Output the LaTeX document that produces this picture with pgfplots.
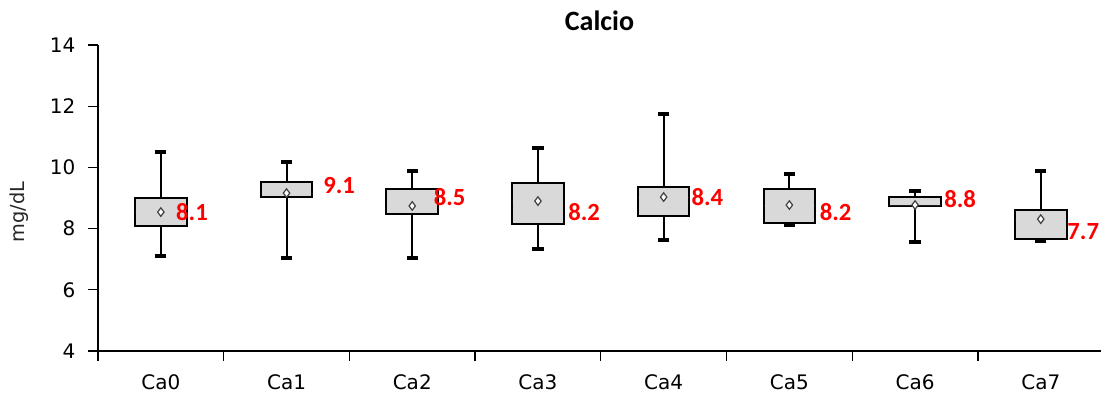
\documentclass[border=0pt]{standalone}
\usepackage{fontspec}
\setmainfont{DejaVu Sans}
\newfontfamily\calib{Carlito}
\usepackage{pgfplots}
\usepgfplotslibrary{statistics}
\usepackage{pgfplotstable}
\pgfplotsset{compat=1.18}

\definecolor{boxgray}{HTML}{D9D9D9}
\definecolor{meanedge}{HTML}{404040}

% boxes
\pgfplotstableread{
pos lw   lq   uq   uw    mean
0   7.10 8.08 9.00 10.50 8.54
1   7.04 9.03 9.52 10.18 9.16
2   7.04 8.48 9.29 9.88  8.74
3   7.33 8.15 9.49 10.63 8.90
4   7.63 8.41 9.36 11.75 9.03
5   8.12 8.18 9.29 9.78  8.77
6   7.56 8.74 9.03 9.23  8.77
7   7.60 7.66 8.60 9.88  8.31
}\data

% red value labels: text, left edge x, centre y
\pgfplotstableread{
lab lx   ly
8.1 0.12 8.54
9.1 1.29 9.42
8.5 2.17 9.03
8.2 3.24 8.54
8.4 4.22 9.03
8.2 5.24 8.54
8.8 6.23 8.97
7.7 7.21 7.89
}\labels

\pgfplotsset{
  boxplot/every whisker/.style={black, line width=1.5pt},
  boxplot/every median/.style={draw=none},
  cabox/.style={black, line width=1.5pt, fill=boxgray, boxplot prepared={#1}},
}

\begin{document}
\begin{tikzpicture}
\begin{axis}[
    scale only axis,
    width=752.25pt, height=229.5pt,
    xmin=-0.5, xmax=7.479,
    ymin=4, ymax=14,
    ytick={4,6,...,14},
    xtick={0,...,7},
    xticklabels={Ca0,Ca1,Ca2,Ca3,Ca4,Ca5,Ca6,Ca7},
    minor xtick={-0.5,0.5,...,6.5},
    axis x line=bottom, axis y line=left,
    axis line style={-, line width=1.1pt},
    tick align=outside,
    major tick length=7.5pt, minor tick length=7.5pt,
    major x tick style={draw=none},
    every tick/.style={black, line width=1pt},
    ticklabel style={font=\fontsize{15}{15}\selectfont},
    yticklabel style={xshift=-6pt},
    xticklabel style={yshift=-7pt},
    /pgf/number format/assume math mode=true,
    title={\calib\bfseries\fontsize{21}{21}\selectfont Calcio},
    title style={at={(rel axis cs:0.5,1)}, anchor=base, yshift=5pt, inner sep=0pt},
    ylabel={mg/dL},
    ylabel style={at={(rel axis cs:0,0.454)}, yshift=59pt, anchor=center,
                  font=\fontsize{14.5}{14.5}\selectfont, text=black!85},
    clip=false,
    boxplot/draw direction=y,
    boxplot/box extend=0.41,
    boxplot/whisker extend=0,
]
\coordinate (bb) at (rel axis cs:0,0);

\addplot[cabox={draw position=0, lower whisker=7.10, lower quartile=8.08, median=8.54, upper quartile=9.00, upper whisker=10.50}] coordinates {};
\addplot[cabox={draw position=1, lower whisker=7.04, lower quartile=9.03, median=9.16, upper quartile=9.52, upper whisker=10.18}] coordinates {};
\addplot[cabox={draw position=2, lower whisker=7.04, lower quartile=8.48, median=8.74, upper quartile=9.29, upper whisker=9.88}] coordinates {};
\addplot[cabox={draw position=3, lower whisker=7.33, lower quartile=8.15, median=8.90, upper quartile=9.49, upper whisker=10.63}] coordinates {};
\addplot[cabox={draw position=4, lower whisker=7.63, lower quartile=8.41, median=9.03, upper quartile=9.36, upper whisker=11.75}] coordinates {};
\addplot[cabox={draw position=5, lower whisker=8.12, lower quartile=8.18, median=8.77, upper quartile=9.29, upper whisker=9.78}] coordinates {};
\addplot[cabox={draw position=6, lower whisker=7.56, lower quartile=8.74, median=8.77, upper quartile=9.03, upper whisker=9.23}] coordinates {};
\addplot[cabox={draw position=7, lower whisker=7.60, lower quartile=7.66, median=8.31, upper quartile=8.60, upper whisker=9.88}] coordinates {};

% whisker caps
\addplot[only marks, mark=-, mark size=4.2pt, mark options={line width=2.8pt, black}]
  table[x=pos, y=lw] {\data};
\addplot[only marks, mark=-, mark size=4.2pt, mark options={line width=2.8pt, black}]
  table[x=pos, y=uw] {\data};

% means
\addplot[only marks, mark=diamond*, mark size=3.2pt,
  mark options={fill=white, draw=meanedge, line width=0.9pt}]
  table[x=pos, y=mean] {\data};

% value labels
\addplot[draw=none, mark=none, nodes near coords, point meta=explicit symbolic,
  nodes near coords style={anchor=west, inner sep=0pt, text=red,
    font=\calib\bfseries\fontsize{18.5}{18.5}\selectfont}]
  table[x=lx, y=ly, meta=lab] {\labels};
\end{axis}
\pgfresetboundingbox
\path ([shift={(-73.5pt,-36.75pt)}]bb) rectangle ([shift={(752.25pt,263.25pt)}]bb);
\end{tikzpicture}
\end{document}
